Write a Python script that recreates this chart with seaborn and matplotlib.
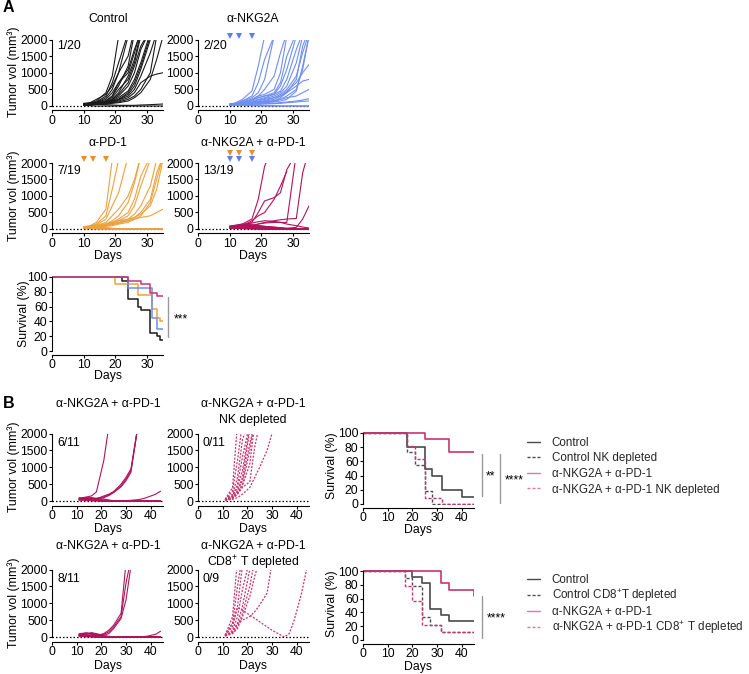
import numpy as np
import pandas as pd
import matplotlib
matplotlib.use('Agg')
import matplotlib.pyplot as plt
import seaborn as sns
from matplotlib.lines import Line2D
from matplotlib.transforms import ScaledTranslation

sns.set_theme(style='ticks')
plt.rcParams['font.family'] = ['Liberation Sans', 'DejaVu Sans']
plt.rcParams['mathtext.fontset'] = 'custom'
plt.rcParams['mathtext.rm'] = 'Liberation Sans'
plt.rcParams['mathtext.it'] = 'Liberation Sans:italic'
plt.rcParams['mathtext.bf'] = 'Liberation Sans:bold'

# ---------------- DATA ----------------
days_A = [10, 12, 14, 17, 19, 21, 24, 26, 28, 31, 33, 35]
days_B = [11, 14, 16, 18, 21, 23, 25, 28, 30, 32, 35, 37, 39, 42, 44]
treat_days = [10, 13, 17]

control_A = [
    [60, 90, 150, 400, 900, 2100],
    [50, 80, 120, 300, 700, 1300, 2200],
    [40, 70, 100, 250, 500, 1000, 2100],
    [80, 100, 200, 350, 600, 1000, 1500, 2300],
    [30, 60, 80, 150, 300, 600, 1200, 2200],
    [50, 60, 100, 200, 400, 700, 1000, 1600, 2300],
    [20, 40, 60, 100, 200, 400, 900, 1400, 2200],
    [60, 80, 100, 150, 250, 500, 800, 1300, 2100],
    [40, 50, 70, 120, 200, 350, 700, 1200, 1800, 2300],
    [50, 70, 90, 130, 180, 300, 600, 1000, 1700, 2300],
    [30, 40, 60, 100, 160, 250, 450, 800, 1300, 2200],
    [20, 30, 50, 80, 120, 200, 400, 700, 1200, 2100],
    [60, 80, 100, 120, 150, 200, 350, 600, 1100, 2000],
    [40, 60, 80, 100, 140, 180, 300, 500, 900, 1600, 2200],
    [30, 50, 70, 90, 110, 150, 250, 400, 700, 900, 960, 1000],
    [20, 40, 50, 60, 80, 100, 150, 250, 400, 800, 1400, 2100],
    [50, 70, 60, 80, 100, 120, 200, 300, 500, 1000, 2100],
    [40, 60, 80, 150, 300, 700, 1100, 1700, 2200],
    [30, 40, 50, 40, 30, 20, 20, 20, 30, 40, 50, 60],
    [20, 10, 0, 0, 0, 0, 0, 0, 0, 0, 0, 0],
]
nkg2a_A = [
    [50, 100, 200, 450, 1200, 2100],
    [60, 80, 150, 250, 400, 800, 2100],
    [40, 60, 100, 200, 300, 350, 500, 1000, 2100],
    [50, 70, 120, 200, 250, 300, 400, 700, 1500, 2200],
    [30, 50, 80, 150, 200, 250, 350, 600, 1100, 2100],
    [60, 80, 100, 180, 250, 300, 350, 450, 800, 1700, 2200],
    [40, 60, 80, 120, 180, 220, 300, 400, 600, 1300, 2100],
    [50, 60, 70, 100, 130, 160, 250, 350, 500, 900, 1600, 2200],
    [30, 40, 60, 80, 100, 150, 200, 300, 450, 700, 1000, 1250],
    [40, 50, 60, 70, 80, 100, 150, 250, 400, 600, 750, 800],
    [20, 30, 40, 60, 80, 100, 120, 150, 200, 450, 1200, 2100],
    [50, 70, 90, 110, 150, 200, 250, 300, 400, 800, 1800, 2300],
    [30, 50, 70, 80, 100, 120, 150, 200, 300, 500, 1100, 2100],
    [40, 60, 80, 100, 120, 140, 160, 200, 250, 300, 400, 500],
    [20, 30, 40, 50, 60, 70, 80, 100, 120, 150, 180, 220],
    [30, 40, 50, 60, 50, 60, 70, 80, 100, 120, 140, 150],
    [20, 30, 30, 20, 20, 10, 10, 0, 0, 0, 0, 0],
    [30, 20, 20, 10, 0, 0, 0, 0, 0, 0, 0, 0],
    [50, 80, 150, 300, 700, 1400, 2100],
    [40, 60, 100, 200, 300, 500, 900, 1600, 2200],
]
pd1_A = [
    [60, 100, 200, 600, 2100],
    [50, 80, 150, 400, 1200, 2100],
    [40, 60, 120, 300, 700, 1100, 2200],
    [50, 80, 100, 200, 400, 600, 1000, 1500, 2200],
    [30, 60, 90, 150, 250, 400, 800, 1400, 2200],
    [40, 70, 100, 150, 200, 300, 500, 900, 1600, 2200],
    [50, 60, 80, 120, 180, 250, 400, 700, 1300, 2100],
    [30, 50, 70, 100, 150, 200, 300, 450, 700, 1300, 2100],
    [40, 60, 90, 110, 130, 170, 250, 350, 500, 900, 1700, 2200],
    [20, 40, 60, 80, 100, 150, 200, 300, 400, 800, 1500, 2200],
    [50, 70, 100, 150, 200, 250, 300, 350, 450, 700, 1200, 2100],
    [30, 50, 80, 120, 160, 200, 250, 300, 350, 400, 500, 600],
    [60, 80, 60, 40, 20, 10, 0, 0, 0, 0, 0, 0],
    [40, 30, 20, 10, 0, 0, 0, 0, 0, 0, 0, 0],
    [50, 40, 30, 20, 10, 0, 0, 0, 0, 0, 0, 0],
    [30, 20, 10, 0, 0, 0, 0, 0, 0, 0, 0, 0],
    [70, 90, 60, 30, 10, 0, 0, 0, 0, 0, 0, 0],
    [40, 50, 40, 20, 0, 0, 0, 0, 0, 0, 0, 0],
    [20, 10, 0, 0, 0, 0, 0, 0, 0, 0, 0, 0],
]
combo_A = [
    [60, 100, 150, 300, 900, 1900, 2600],
    [50, 80, 120, 200, 500, 850, 950, 1100, 1800, 2300],
    [40, 70, 100, 250, 400, 500, 900, 1300, 1750],
    [50, 60, 80, 100, 150, 180, 200, 200, 200, 2300],
    [30, 50, 80, 100, 150, 200, 250, 280, 300, 320, 1700, 2400],
    [40, 60, 70, 80, 60, 50, 40, 30, 20, 50, 300, 700],
    [50, 80, 120, 180, 220, 250, 230, 200, 150, 100, 60, 30],
    [60, 90, 120, 100, 80, 60, 40, 20, 10, 0, 0, 0],
    [80, 120, 150, 130, 100, 80, 60, 40, 20, 10, 0, 0],
    [40, 60, 80, 90, 70, 50, 30, 20, 10, 0, 0, 0],
    [70, 100, 90, 70, 50, 30, 20, 10, 0, 0, 0, 0],
    [50, 70, 60, 40, 30, 20, 10, 0, 0, 0, 0, 0],
    [30, 50, 40, 30, 20, 10, 0, 0, 0, 0, 0, 0],
    [60, 80, 100, 120, 100, 80, 50, 30, 10, 0, 0, 0],
    [40, 30, 20, 10, 0, 0, 0, 0, 0, 0, 0, 0],
    [20, 40, 30, 20, 10, 0, 0, 0, 0, 0, 0, 0],
    [90, 110, 80, 50, 30, 10, 0, 0, 0, 0, 0, 0],
    [30, 20, 10, 0, 0, 0, 0, 0, 0, 0, 0, 0],
    [50, 40, 30, 20, 10, 0, 0, 0, 0, 0, 0, 0],
]
combo_B1 = [
    [80, 120, 150, 270, 1200, 2200],
    [50, 80, 100, 60, 150, 200, 280, 500, 700, 950, 2300],
    [60, 100, 80, 70, 120, 180, 260, 450, 650, 900, 2300],
    [40, 60, 90, 80, 100, 160, 250, 420, 600, 850, 2300],
    [30, 40, 30, 20, 10, 0, 0, 0, 10, 20, 40, 70, 120, 200, 290],
    [100, 80, 60, 40, 20, 10, 0, 0, 0, 0, 0, 0, 0, 0, 0],
    [60, 90, 70, 50, 30, 10, 0, 0, 0, 0, 0, 0, 0, 0, 0],
    [50, 40, 60, 80, 60, 30, 10, 0, 0, 0, 0, 0, 0, 0, 0],
    [30, 20, 10, 0, 0, 0, 0, 0, 0, 0, 0, 0, 0, 0, 0],
    [70, 60, 40, 20, 0, 0, 0, 0, 0, 0, 0, 0, 0, 0, 0],
    [40, 30, 20, 10, 0, 0, 0, 0, 0, 0, 0, 0, 0, 0, 0],
]
nkdep_B1 = [
    [50, 400, 2300],
    [40, 300, 1200, 2300],
    [60, 200, 700, 1800, 2500],
    [30, 150, 500, 1300, 2300],
    [50, 150, 400, 900, 2200],
    [40, 100, 300, 700, 2100],
    [30, 120, 300, 600, 1700, 2300],
    [20, 80, 200, 500, 1500, 2400],
    [40, 100, 250, 450, 1100, 2300],
    [30, 80, 200, 400, 570, 1600, 2300],
    [20, 50, 100, 200, 400, 700, 1000, 1500, 2000],
]
combo_B2 = [
    [60, 100, 80, 40, 100, 200, 350, 700, 2200],
    [80, 120, 100, 60, 80, 150, 300, 600, 1600, 2300],
    [50, 90, 130, 100, 50, 100, 250, 550, 1100, 2100],
    [30, 20, 10, 0, 0, 0, 0, 0, 0, 0, 0, 10, 30, 80, 170],
    [100, 120, 90, 60, 30, 10, 0, 0, 0, 0, 0, 0, 0, 0, 0],
    [60, 80, 110, 70, 40, 20, 0, 0, 0, 0, 0, 0, 0, 0, 0],
    [40, 60, 50, 30, 10, 0, 0, 0, 0, 0, 0, 0, 0, 0, 0],
    [70, 50, 30, 10, 0, 0, 0, 0, 0, 0, 0, 0, 0, 0, 0],
    [30, 40, 20, 10, 0, 0, 0, 0, 0, 0, 0, 0, 0, 0, 0],
    [50, 30, 20, 0, 0, 0, 0, 0, 0, 0, 0, 0, 0, 0, 0],
    [20, 10, 0, 0, 0, 0, 0, 0, 0, 0, 0, 0, 0, 0, 0],
]
cd8dep_B2 = [
    [50, 600, 2300],
    [40, 400, 1500, 2400],
    [60, 300, 900, 2100],
    [30, 200, 600, 1400, 2300],
    [50, 150, 400, 900, 2000],
    [40, 120, 300, 700, 1500, 2300],
    [30, 100, 250, 600, 1200, 1800, 2300],
    [40, 150, 400, 500, 610, 750, 950, 1300, 2200],
    [50, 400, 872, 800, 650, 550, 450, 300, 200, 120, 0, 100, 500, 1300, 2000],
]

# survival curves (time, percent)
survA_t = {'ctrl': [0, 22, 24, 27, 28, 31, 33, 34, 35],
           'nkg2a': [0, 24, 31.5, 33, 35],
           'pd1': [0, 20, 27, 31.5, 33, 34, 35],
           'combo': [0, 24, 28, 31, 33, 35]}
survA_s = {'ctrl': [100, 95, 70, 60, 55, 25, 20, 15, 15],
           'nkg2a': [100, 85, 45, 30, 30],
           'pd1': [100, 90, 75, 57, 45, 40, 40],
           'combo': [100, 95, 90, 79, 74, 74]}
survB1_t = {'ctrl': [0, 18, 25, 28, 32, 40, 45],
            'ctrl_dep': [0, 18, 21, 25, 28, 45],
            'combo': [0, 25, 35, 45],
            'combo_dep': [0, 18, 21, 25, 32, 45]}
survB1_s = {'ctrl': [100, 80, 50, 40, 20, 10, 10],
            'ctrl_dep': [100, 73, 55, 18, 0, 0],
            'combo': [100, 91, 73, 73],
            'combo_dep': [100, 82, 64, 9, 0, 0]}
survB2_t = {'ctrl': [0, 20, 24, 27, 31.5, 35, 45],
            'ctrl_dep': [0, 17, 20, 24, 27, 31.5, 45],
            'combo': [0, 31.5, 35, 45],
            'combo_dep': [0, 17, 20, 24, 31.5, 45]}
survB2_s = {'ctrl': [100, 91, 82, 45, 36, 27, 27],
            'ctrl_dep': [100, 90, 78, 33, 22, 11, 11],
            'combo': [100, 82, 73, 64],
            'combo_dep': [100, 78, 56, 22, 11, 0]}

fracs_A = ['1/20', '2/20', '7/19', '13/19']
fracs_B = ['6/11', '0/11', '8/11', '0/9']
legend_B1 = ['Control', 'Control NK depleted', 'α-NKG2A + α-PD-1', 'α-NKG2A + α-PD-1 NK depleted']
legend_B2 = ['Control', 'Control CD8$^{+}$T depleted', 'α-NKG2A + α-PD-1',
             'α-NKG2A + α-PD-1 CD8$^{+}$ T depleted']

# ---------------- STYLE ----------------
BLACK = '#1a1a1a'
BLUE = '#6f8ef0'
ORANGE = '#eca23c'
MAG = '#b0135c'
MAG2 = '#c9336f'
GRAY = '#4a4a4a'
TRI_O = '#e8902c'
TRI_B = '#5a7ef0'
FS = 8.8
LFS = 8.4
DOT = (0, (1.2, 1.6))
DASH = (0, (2.2, 1.4))
DOTM = (0, (1.6, 1.2))

W, H = 749, 674
fig = plt.figure(figsize=(W / 100, H / 100), dpi=100)


def make_ax(left, right, top, zero, ymax, xmax, ylo, yhi, xticks, yticks):
    ppu = (zero - top) / ymax
    atop = top - (yhi - ymax) * ppu
    abot = zero + (-ylo) * ppu
    ax = fig.add_axes([left / W, 1 - abot / H, (right - left) / W, (abot - atop) / H])
    ax.set_xlim(0, xmax)
    ax.set_ylim(ylo, yhi)
    for s in ['top', 'right']:
        ax.spines[s].set_visible(False)
    for s in ['left', 'bottom']:
        ax.spines[s].set_linewidth(0.8)
        ax.spines[s].set_color('black')
    ax.spines['left'].set_bounds(0, ymax)
    ax.spines['bottom'].set_bounds(0, xmax)
    ax.spines['bottom'].set_position(('outward', 1.8))
    ax.set_xticks(xticks)
    ax.set_yticks(yticks)
    ax.tick_params(direction='out', length=2.3, width=0.8, labelsize=FS, pad=0.9,
                   color='black', labelcolor='black')
    ax.set_xlabel('')
    ax.set_ylabel('')
    ax.grid(False)
    ax.set_facecolor('none')
    return ax


def long_df(curves, days):
    rows = []
    for i, c in enumerate(curves):
        for d, v in zip(days, c):
            rows.append((i, d, v))
    return pd.DataFrame(rows, columns=['mouse', 'day', 'vol'])


def growth(ax, curves, days, color, ls='-', lw=0.8):
    df = long_df(curves, days)
    sns.lineplot(data=df, x='day', y='vol', units='mouse', estimator=None, color=color,
                 lw=lw, linestyle=ls, ax=ax, legend=False, sort=True)
    ax.axhline(0, color='black', lw=0.9, ls=DOT, zorder=0.5)
    ax.set_xlabel('')
    ax.set_ylabel('')


def surv(ax, t, s, color, ls='-', lw=1.2):
    df = pd.DataFrame({'t': t, 's': s})
    sns.lineplot(data=df, x='t', y='s', estimator=None, color=color, lw=lw, linestyle=ls,
                 drawstyle='steps-post', ax=ax, legend=False)
    ax.set_xlabel('')
    ax.set_ylabel('')


def ftxt(x, y, s, **kw):
    kw.setdefault('ha', 'center')
    kw.setdefault('va', 'center')
    kw.setdefault('fontsize', FS)
    fig.text(x / W, 1 - y / H, s, color='black', **kw)


def fline(xs, ys, color='#9a9a9a', lw=1.0):
    fig.add_artist(Line2D([x / W for x in xs], [1 - y / H for y in ys], color=color, lw=lw))


def triangles(ax, ymax, color, dpx):
    tr = ax.transData + ScaledTranslation(0, dpx / 100, fig.dpi_scale_trans)
    ax.plot(treat_days, [ymax] * len(treat_days), 'v', color=color, ms=4, mew=0,
            transform=tr, clip_on=False)


GT = [0, 500, 1000, 1500, 2000]
ST = [0, 20, 40, 60, 80, 100]

# ---------------- PANEL A ----------------
a1 = make_ax(52, 163, 39.5, 106, 2000, 35, -60, 2000, [0, 10, 20, 30], GT)
growth(a1, control_A, days_A, BLACK)
a2 = make_ax(198, 309, 39.5, 106, 2000, 35, -60, 2000, [0, 10, 20, 30], GT)
growth(a2, nkg2a_A, days_A, BLUE)
triangles(a2, 2000, TRI_B, 3.5)
a3 = make_ax(52, 163, 163, 229, 2000, 35, -60, 2000, [0, 10, 20, 30], GT)
growth(a3, pd1_A, days_A, ORANGE)
triangles(a3, 2000, TRI_O, 4.5)
a4 = make_ax(198, 309, 163, 229, 2000, 35, -60, 2000, [0, 10, 20, 30], GT)
growth(a4, combo_A, days_A, MAG)
triangles(a4, 2000, TRI_O, 10.5)
triangles(a4, 2000, TRI_B, 4.5)

a5 = make_ax(52, 163, 277, 351, 100, 35, -2, 102, [0, 10, 20, 30], ST)
surv(a5, survA_t['ctrl'], survA_s['ctrl'], BLACK, lw=1.1)
surv(a5, survA_t['pd1'], survA_s['pd1'], ORANGE, lw=1.1)
surv(a5, survA_t['nkg2a'], survA_s['nkg2a'], BLUE, lw=1.1)
surv(a5, survA_t['combo'], survA_s['combo'], MAG2, lw=1.1)

ftxt(3, 8, 'A', ha='left', fontsize=11.5, fontweight='bold')
ftxt(108, 19, 'Control')
ftxt(253, 19, 'α-NKG2A')
ftxt(108, 143, 'α-PD-1')
ftxt(253, 143, 'α-NKG2A + α-PD-1')
for (x, y), s in zip([(57, 46), (203, 46), (57, 171), (203, 171)], fracs_A):
    ftxt(x, y, s, ha='left')
ftxt(14, 72, 'Tumor vol (mm³)', rotation=90)
ftxt(14, 196, 'Tumor vol (mm³)', rotation=90)
ftxt(108, 256, 'Days')
ftxt(253, 256, 'Days')
ftxt(24, 314, 'Survival (%)', rotation=90)
ftxt(108, 376, 'Days')
fline([168, 168], [297, 337])
ftxt(181, 319, '***')

# ---------------- PANEL B ----------------
BX = [0, 10, 20, 30, 40]
b1 = make_ax(52, 163, 433.5, 501, 2000, 45, -60, 2000, BX, GT)
growth(b1, combo_B1, days_B, MAG)
b2 = make_ax(198, 309, 433.5, 501, 2000, 45, -60, 2000, BX, GT)
growth(b2, nkdep_B1, days_B, MAG2, ls=DOTM, lw=0.9)
b3 = make_ax(52, 163, 569.5, 637, 2000, 45, -60, 2000, BX, GT)
growth(b3, combo_B2, days_B, MAG)
b4 = make_ax(198, 309, 569.5, 637, 2000, 45, -60, 2000, BX, GT)
growth(b4, cd8dep_B2, days_B, MAG2, ls=DOTM, lw=0.9)

s1 = make_ax(363, 474, 433, 504, 100, 45, -2, 102, BX, ST)
surv(s1, survB1_t['ctrl'], survB1_s['ctrl'], GRAY)
surv(s1, survB1_t['ctrl_dep'], survB1_s['ctrl_dep'], GRAY, ls=DASH, lw=1.0)
surv(s1, survB1_t['combo'], survB1_s['combo'], MAG2)
surv(s1, survB1_t['combo_dep'], survB1_s['combo_dep'], MAG2, ls=DASH, lw=1.0)
s2 = make_ax(363, 474, 571, 640, 100, 45, -2, 102, BX, ST)
surv(s2, survB2_t['ctrl'], survB2_s['ctrl'], GRAY)
surv(s2, survB2_t['ctrl_dep'], survB2_s['ctrl_dep'], GRAY, ls=DASH, lw=1.0)
surv(s2, survB2_t['combo'], survB2_s['combo'], MAG2)
surv(s2, survB2_t['combo_dep'], survB2_s['combo_dep'], MAG2, ls=DASH, lw=1.0)

ftxt(3, 403, 'B', ha='left', fontsize=11.5, fontweight='bold')
ftxt(108, 404, 'α-NKG2A + α-PD-1')
ftxt(253, 404, 'α-NKG2A + α-PD-1')
ftxt(253, 420, 'NK depleted')
ftxt(108, 546, 'α-NKG2A + α-PD-1')
ftxt(253, 546, 'α-NKG2A + α-PD-1')
ftxt(253, 563, 'CD8$^{+}$ T depleted')
for (x, y), s in zip([(57, 443), (203, 443), (57, 579), (203, 579)], fracs_B):
    ftxt(x, y, s, ha='left')
ftxt(14, 467, 'Tumor vol (mm³)', rotation=90)
ftxt(14, 603, 'Tumor vol (mm³)', rotation=90)
ftxt(108, 529, 'Days')
ftxt(253, 529, 'Days')
ftxt(418, 530, 'Days')
ftxt(108, 666, 'Days')
ftxt(253, 666, 'Days')
ftxt(418, 667, 'Days')
ftxt(332, 466, 'Survival (%)', rotation=90)
ftxt(332, 604, 'Survival (%)', rotation=90)

fline([482, 482], [454, 496])
ftxt(490.5, 476, '**')
fline([500, 500], [454, 503])
ftxt(514, 480, '****')
fline([482, 482], [596, 638])
ftxt(496, 618, '****')

styles = [(GRAY, '-'), (GRAY, DASH), ('#e07aa5', '-'), ('#e07aa5', DASH)]
for labels, top, sp in [(legend_B1, 437, 0.3), (legend_B2, 574, 0.12)]:
    handles = [Line2D([], [], color=c, ls=l, lw=1.0) for c, l in styles]
    fig.legend(handles, labels, loc='upper left', bbox_to_anchor=(527 / W, 1 - top / H),
               frameon=False, fontsize=LFS, handlelength=1.15, handletextpad=0.95,
               labelspacing=sp, borderpad=0, borderaxespad=0)

fig.savefig('out.png', dpi=100)
